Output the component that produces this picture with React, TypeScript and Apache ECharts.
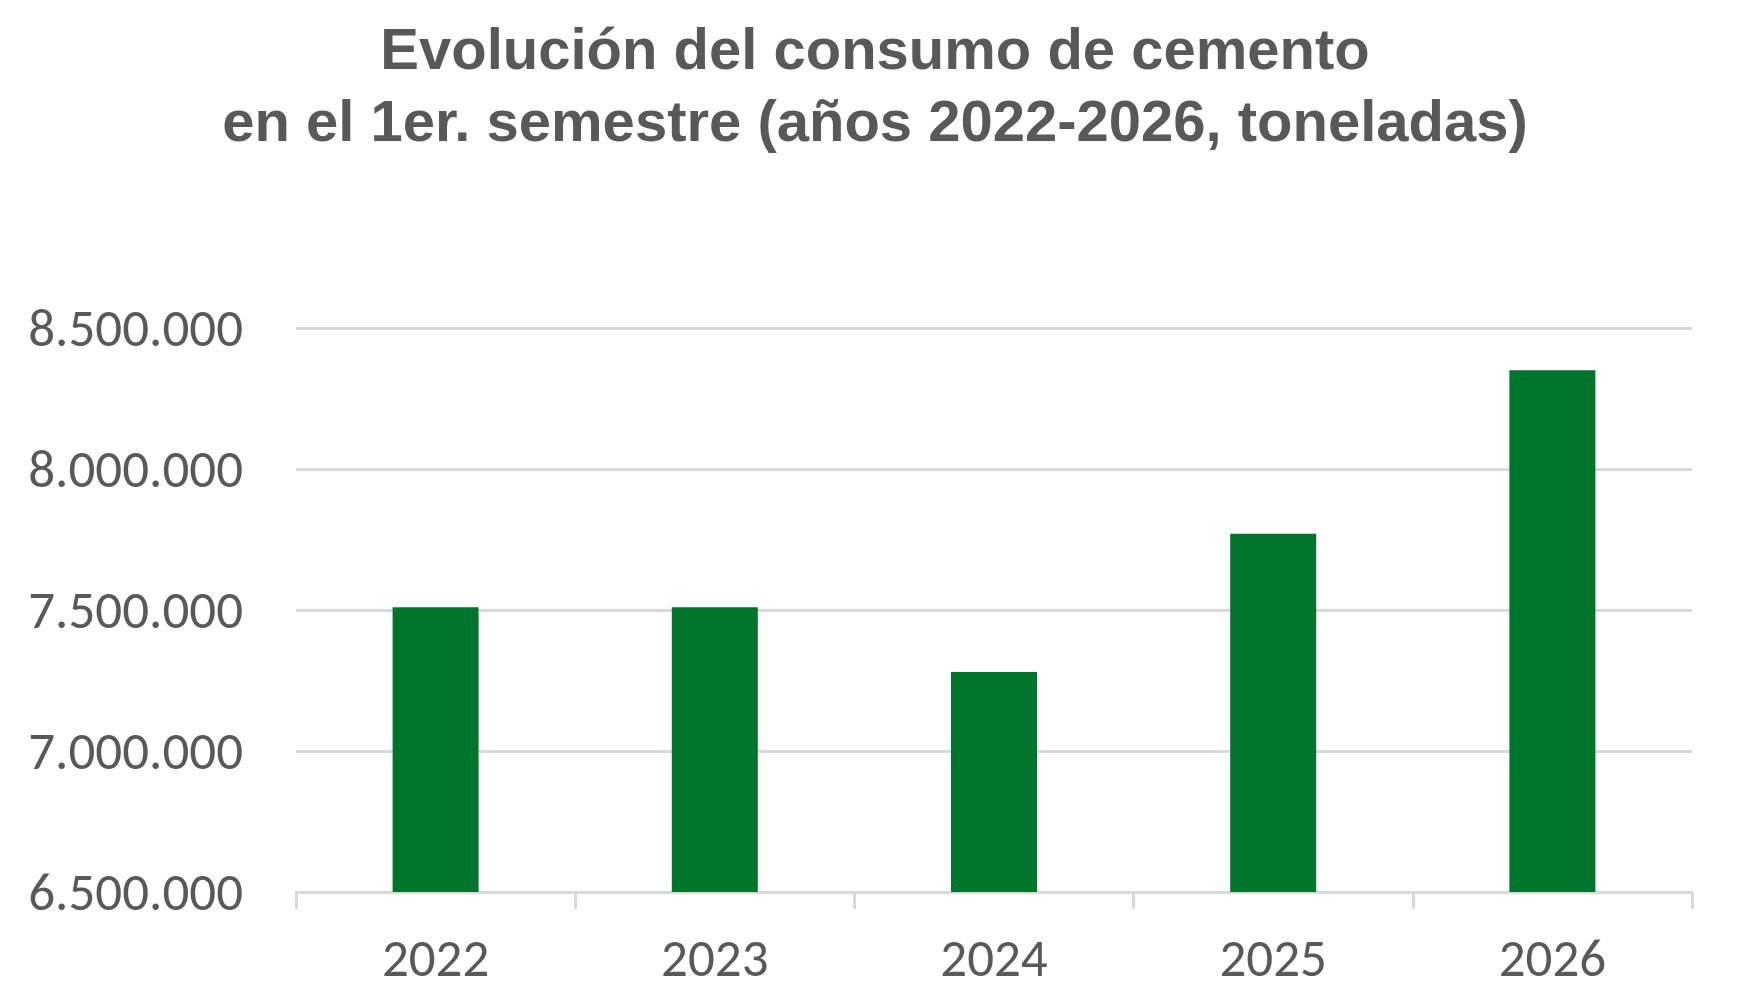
import * as echarts from 'echarts';
import { useEffect, useRef } from 'react';

// data
const years = ['2022', '2023', '2024', '2025', '2026'];
const consumo = [7510000, 7510000, 7280000, 7770000, 8350000];
const yMin = 6500000;
const yMax = 8500000;
const yStep = 500000;

const titleLines = ['Evolución del consumo de cemento', 'en el 1er. semestre (años 2022-2026, toneladas)'];

const textGrey = '#595959';
const lineGrey = '#d9d9d9';
const barGreen = '#00762d';
const font = 'Calibri, Carlito, "Liberation Sans", Arial, sans-serif';

function fmtThousands(v: number) {
  return String(Math.round(v)).replace(/\B(?=(\d{3})+(?!\d))/g, '.');
}

export default function App() {
  const elRef = useRef<HTMLDivElement | null>(null);

  useEffect(() => {
    if (!elRef.current) return;
    const chart = echarts.init(elRef.current, undefined, { renderer: 'svg' });

    chart.setOption({
      animation: false,
      backgroundColor: '#ffffff',
      title: {
        text: titleLines.join('\n'),
        left: 'center',
        top: 7,
        textStyle: {
          fontFamily: '"Liberation Sans", Arial, sans-serif',
          fontSize: 58,
          fontWeight: 'bold',
          lineHeight: 72,
          color: textGrey
        }
      },
      grid: { left: 296, right: 58, top: 328, bottom: 108 },
      xAxis: {
        type: 'category',
        data: years,
        axisLine: { lineStyle: { color: lineGrey, width: 3 } },
        axisTick: { show: true, length: 17, lineStyle: { color: lineGrey, width: 3 } },
        axisLabel: { color: textGrey, fontSize: 53, fontFamily: font, margin: 39 },
        splitLine: { show: false }
      },
      yAxis: {
        type: 'value',
        min: yMin,
        max: yMax,
        interval: yStep,
        axisLine: { show: false },
        axisTick: { show: false },
        axisLabel: {
          color: textGrey,
          fontSize: 53,
          fontFamily: font,
          margin: 53,
          formatter: (v: number) => fmtThousands(v)
        },
        splitLine: { lineStyle: { color: lineGrey, width: 3 } }
      },
      series: [
        {
          type: 'bar',
          data: consumo,
          barWidth: 86,
          itemStyle: { color: barGreen }
        }
      ]
    });

    return () => {
      chart.dispose();
    };
  }, []);

  return <div ref={elRef} style={{ position: 'fixed', left: 0, top: 0, width: 1750, height: 1000 }} />;
}
